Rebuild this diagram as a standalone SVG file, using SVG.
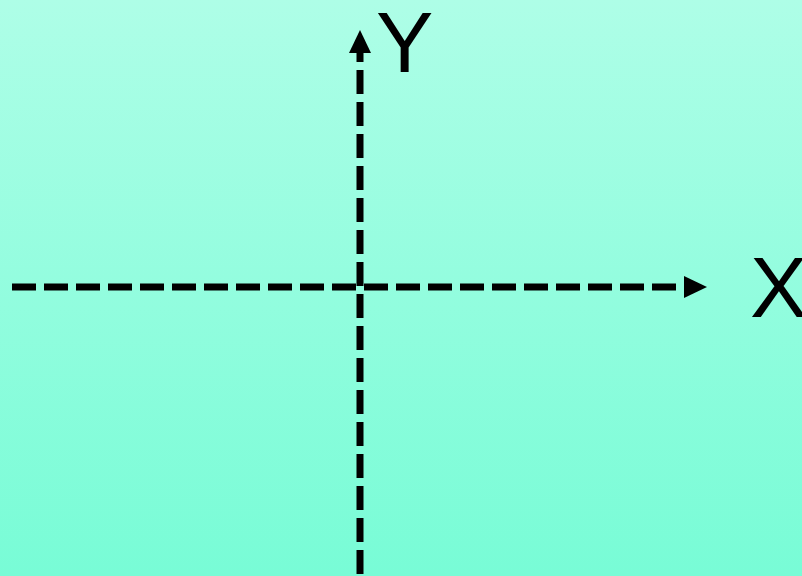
<svg xmlns="http://www.w3.org/2000/svg" width="802" height="576" viewBox="0 0 802 576">
<defs>
<linearGradient id="bg" x1="0" y1="0" x2="0" y2="1">
<stop offset="0" stop-color="#aefee7"/>
<stop offset="1" stop-color="#78fcd6"/>
</linearGradient>
<marker id="arr" markerUnits="userSpaceOnUse" markerWidth="24" markerHeight="24" refX="0" refY="11" orient="auto">
<path d="M0,0 L23,11 L0,22 Z" fill="#000"/>
</marker>
<style>
.axis{stroke:#000;stroke-width:7;stroke-dasharray:24 8;fill:none}
.lbl{font-family:"Liberation Sans",Arial,sans-serif;font-size:86px;fill:#000}
</style>
</defs>
<rect width="802" height="576" fill="url(#bg)"/>
<g id="connectors">
<line class="axis" x1="12" y1="287" x2="684" y2="287" marker-end="url(#arr)"/>
<line class="axis" x1="360" y1="574" x2="360" y2="53" marker-end="url(#arr)"/>
</g>
<g id="label-y"><text class="lbl" x="376" y="72">Y</text></g>
<g id="label-x"><text class="lbl" x="750" y="317">X</text></g>
</svg>
